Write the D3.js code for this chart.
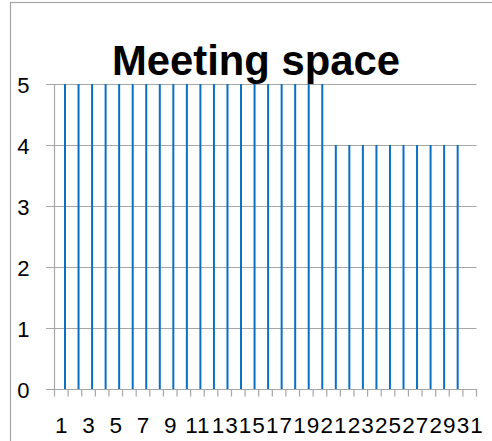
<!DOCTYPE html>
<html><head><meta charset="utf-8">
<script src="https://cdn.jsdelivr.net/npm/d3@7"></script>
<style>html,body{margin:0;padding:0;background:#fff;}svg{display:block;}</style>
</head><body>
<script>
const title = "Meeting space";
const categories = d3.range(1, 32).map(String);
const values = [5,5,5,5,5,5,5,5,5,5,5,5,5,5,5,5,5,5,5,5,4,4,4,4,4,4,4,4,4,4,0];
const yTicks = [0,1,2,3,4,5];
const xTickLabels = categories.filter((d,i)=> i % 2 === 0);

const W = 492, H = 441;
const svg = d3.select("body").append("svg").attr("width", W).attr("height", H);
const font = "'Liberation Sans', Arial, sans-serif";

// outer chart border
svg.append("rect").attr("x",10.5).attr("y",2.5).attr("width",520).attr("height",470)
  .attr("fill","none").attr("stroke","#a6a6a6").attr("stroke-width",1.2);

const pLeft = 54.5, pRight = 476.5, pTop = 84, pBottom = 389;
const x = d3.scaleBand().domain(categories).range([pLeft, pRight]);
const xBar = d3.scalePoint().domain(categories).range([65, 471.2]);
const y = d3.scaleLinear().domain([0,5]).range([pBottom, pTop]);

// gridlines
svg.append("g").selectAll("line").data(yTicks).join("line")
  .attr("x1", pLeft-8.5).attr("x2", pRight)
  .attr("y1", d=>Math.round(y(d))+0.5).attr("y2", d=>Math.round(y(d))+0.5)
  .attr("stroke","#a6a6a6").attr("stroke-width",1.2);

// y axis line
svg.append("line").attr("x1",pLeft).attr("x2",pLeft).attr("y1",pTop).attr("y2",pBottom+0.5)
  .attr("stroke","#a6a6a6").attr("stroke-width",1.2);

// x ticks
const tickXs = categories.map(c=>x(c)).concat([x(categories[categories.length-1])+x.bandwidth()]);
svg.append("g").selectAll("line").data(tickXs).join("line")
  .attr("x1",d=>d).attr("x2",d=>d).attr("y1",pBottom).attr("y2",pBottom+7.5)
  .attr("stroke","#a6a6a6").attr("stroke-width",1.2);

// bars
svg.append("g").selectAll("rect").data(categories.map((c,i)=>({c, v: values[i]}))).join("rect")
  .attr("x", d=>xBar(d.c)-1).attr("width", 2)
  .attr("y", d=>y(d.v)).attr("height", d=>y(0)-y(d.v))
  .attr("fill","#0a70c4");

// y labels
svg.append("g").selectAll("text").data(yTicks).join("text")
  .attr("x", 29.5).attr("y", d=>y(d)+8.5).attr("text-anchor","end")
  .attr("font-family",font).attr("font-size",22).attr("fill","#000").text(d=>d);

// x labels
svg.append("g").selectAll("text").data(xTickLabels).join("text")
  .attr("x", d=>x(d)+x.bandwidth()/2 + 0.5).attr("y", 433.3).attr("text-anchor","middle")
  .attr("font-family",font).attr("font-size",22.5).attr("letter-spacing","1px")
  .attr("fill","#000").text(d=>d);

// title
svg.append("text").attr("x",256).attr("y",75).attr("text-anchor","middle")
  .attr("font-family",font).attr("font-weight","bold").attr("font-size",41.8)
  .attr("fill","#000").text(title);
</script>
</body></html>
